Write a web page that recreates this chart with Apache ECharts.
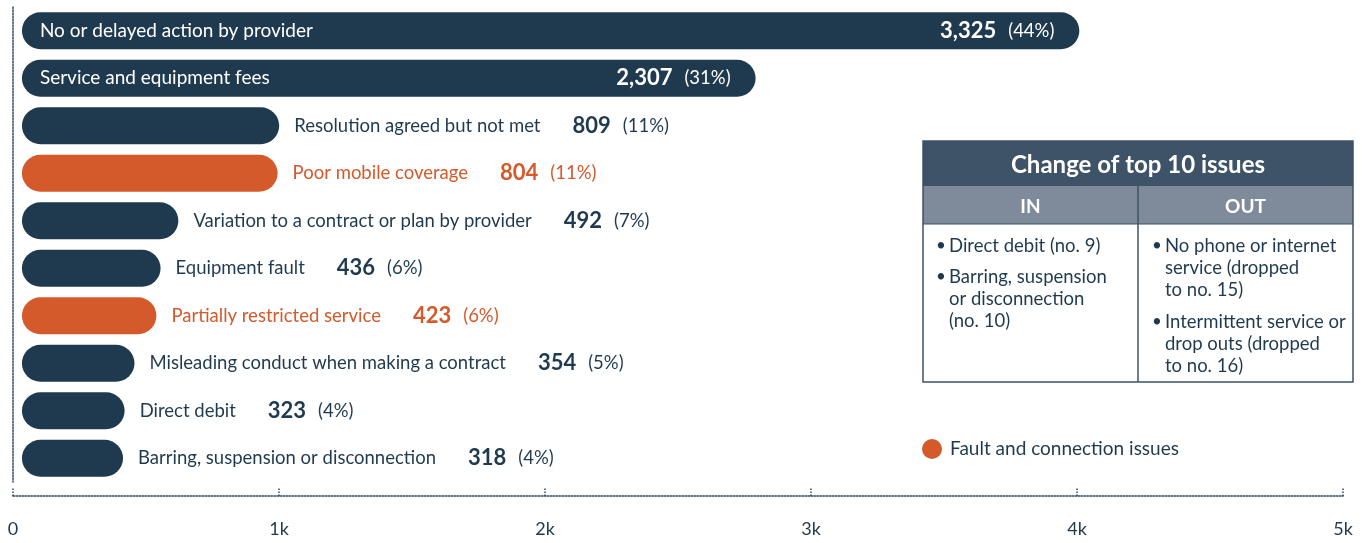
<!DOCTYPE html>
<html>
<head>
<meta charset="utf-8">
<script src="https://cdn.jsdelivr.net/npm/echarts@6/dist/echarts.min.js"></script>
<style>
html,body{margin:0;padding:0;background:#fff;}
#chart{width:1371px;height:543px;}
</style>
</head>
<body>
<div id="chart"></div>
<script>
// ---- data ----
const categories = [
  'No or delayed action by provider',
  'Service and equipment fees',
  'Resolution agreed but not met',
  'Poor mobile coverage',
  'Variation to a contract or plan by provider',
  'Equipment fault',
  'Partially restricted service',
  'Misleading conduct when making a contract',
  'Direct debit',
  'Barring, suspension or disconnection'
];
const complaints = [3325, 2307, 809, 804, 492, 436, 423, 354, 323, 318];
const percents = [44, 31, 11, 11, 7, 6, 6, 5, 4, 4];
const faultIssue = [false, false, false, true, false, false, true, false, false, false];
const tickLabels = ['0', '1k', '2k', '3k', '4k', '5k'];
const legendLabel = 'Fault and connection issues';
const tableTitle = 'Change of top 10 issues';
const tableInHeader = 'IN';
const tableOutHeader = 'OUT';
const tableIn = ['Direct debit (no. 9)', 'Barring, suspension\nor disconnection\n(no. 10)'];
const tableOut = ['No phone or internet\nservice (dropped\nto no. 15)', 'Intermittent service or\ndrop outs (dropped\nto no. 16)'];

// ---- styles ----
const NAVY = '#1f3a4f';
const ORANGE = '#d4592b';
const HEAD = '#3e5367';
const SUB = '#7f8b9b';
const FONT = 'Lato, "Open Sans", sans-serif';
const INSIDE_COUNT = 2;

const fmt = v => v.toLocaleString('en-US');

const mainData = complaints.map((v, i) => {
  const col = faultIssue[i] ? ORANGE : NAVY;
  const item = { value: v, itemStyle: { color: col } };
  if (i < INSIDE_COUNT) {
    item.label = {
      show: true, position: 'insideLeft', distance: 18,
      formatter: categories[i], color: '#fff', fontSize: 19, fontFamily: FONT
    };
  } else {
    item.label = {
      show: true, position: 'right', distance: 15,
      formatter: '{n|' + categories[i] + '}{v|' + fmt(v) + '}{p|(' + percents[i] + '%)}',
      rich: {
        n: { color: col, fontSize: 18.5, fontFamily: FONT },
        v: { color: col, fontSize: 22, fontWeight: 'bold', fontFamily: FONT, padding: [0, 0, 0, 32] },
        p: { color: col, fontSize: 18.5, fontFamily: FONT, padding: [0, 0, 0, 12] }
      }
    };
  }
  return item;
});

const overlayData = complaints.map((v, i) => {
  const item = { value: v, itemStyle: { color: 'rgba(0,0,0,0)' } };
  if (i < INSIDE_COUNT) {
    item.label = {
      show: true, position: 'insideRight', distance: 25,
      formatter: '{v|' + fmt(v) + '}{p|(' + percents[i] + '%)}',
      rich: {
        v: { color: '#fff', fontSize: 22, fontWeight: 'bold', fontFamily: FONT },
        p: { color: '#fff', fontSize: 18.5, fontFamily: FONT, padding: [0, 0, 0, 12] }
      }
    };
  } else {
    item.label = { show: false };
  }
  return item;
});

const TX = 923, TY = 141, TW = 430, TH = 241, MID = 1138;
const graphics = [
  { type: 'rect', shape: { x: TX, y: TY, width: TW, height: 45 }, style: { fill: HEAD } },
  { type: 'rect', shape: { x: TX, y: TY + 45, width: TW, height: 38 }, style: { fill: SUB } },
  { type: 'rect', shape: { x: TX, y: TY, width: TW, height: TH }, style: { fill: 'none', stroke: HEAD, lineWidth: 1.5 } },
  { type: 'line', shape: { x1: MID, y1: TY + 45, x2: MID, y2: TY + TH }, style: { stroke: HEAD, lineWidth: 1.5 } },
  { type: 'line', shape: { x1: TX, y1: TY + 83, x2: TX + TW, y2: TY + 83 }, style: { stroke: HEAD, lineWidth: 1 } },
  { type: 'text', x: TX + TW / 2, y: TY + 24, style: { text: tableTitle, fill: '#fff', font: 'bold 24px ' + FONT, textAlign: 'center', textVerticalAlign: 'middle' } },
  { type: 'text', x: (TX + MID) / 2, y: TY + 66, style: { text: tableInHeader, fill: '#fff', font: 'bold 19px ' + FONT, textAlign: 'center', textVerticalAlign: 'middle' } },
  { type: 'text', x: (MID + TX + TW) / 2, y: TY + 66, style: { text: tableOutHeader, fill: '#fff', font: 'bold 19px ' + FONT, textAlign: 'center', textVerticalAlign: 'middle' } }
];
function addBullets(list, x, ys) {
  list.forEach((t, k) => {
    graphics.push({ type: 'text', x: x, y: ys[k], style: { text: '\u2022', fill: NAVY, font: '17px ' + FONT, lineHeight: 22, textVerticalAlign: 'top' } });
    graphics.push({ type: 'text', x: x + 13, y: ys[k], style: { text: t, fill: NAVY, font: '18.5px ' + FONT, lineHeight: 22, textVerticalAlign: 'top' } });
  });
}
addBullets(tableIn, 936, [235, 266]);
addBullets(tableOut, 1152, [235, 311]);

const chart = echarts.init(document.getElementById('chart'), null, { renderer: 'canvas' });
chart.setOption({
  animation: false,
  backgroundColor: '#fff',
  textStyle: { fontFamily: FONT },
  grid: { left: 13, right: 28, top: 7, bottom: 61, containLabel: false },
  legend: {
    data: [{ name: legendLabel, icon: 'circle' }],
    left: 917, top: 434, itemWidth: 20, itemHeight: 20, itemGap: 8,
    textStyle: { color: NAVY, fontSize: 19, fontFamily: FONT, padding: [0, 0, 0, 3] }
  },
  xAxis: [
    {
      type: 'value', min: 0, max: 5000, interval: 1000, position: 'bottom', offset: 14,
      axisLine: { show: true, lineStyle: { color: '#2c4a66', type: 'dotted', width: 1.5 } },
      axisTick: { show: true, inside: true, length: 9, lineStyle: { color: '#2c4a66', type: 'dotted', width: 1.5 } },
      splitLine: { show: false },
      axisLabel: {
        margin: 24, color: NAVY, fontSize: 18, fontFamily: FONT,
        formatter: v => tickLabels[Math.round(v / 1000)]
      }
    },
    { type: 'value', show: false, min: -28, max: 4154 }
  ],
  yAxis: {
    type: 'category', data: categories, inverse: true,
    axisLine: { show: true, lineStyle: { color: '#2c4a66', type: 'dotted', width: 1.5 } },
    axisTick: { show: false }, axisLabel: { show: false }, splitLine: { show: false }
  },
  series: [
    { type: 'bar', name: 'Complaints', xAxisIndex: 1, data: mainData, barWidth: 37, barGap: '-100%',
      itemStyle: { borderRadius: 18.5 } },
    { type: 'bar', name: 'labels', xAxisIndex: 1, data: overlayData, barWidth: 37, barGap: '-100%', z: 3 },
    { type: 'scatter', name: legendLabel, xAxisIndex: 1, data: [], itemStyle: { color: ORANGE, opacity: 1 } }
  ],
  graphic: graphics
});
</script>
</body>
</html>
